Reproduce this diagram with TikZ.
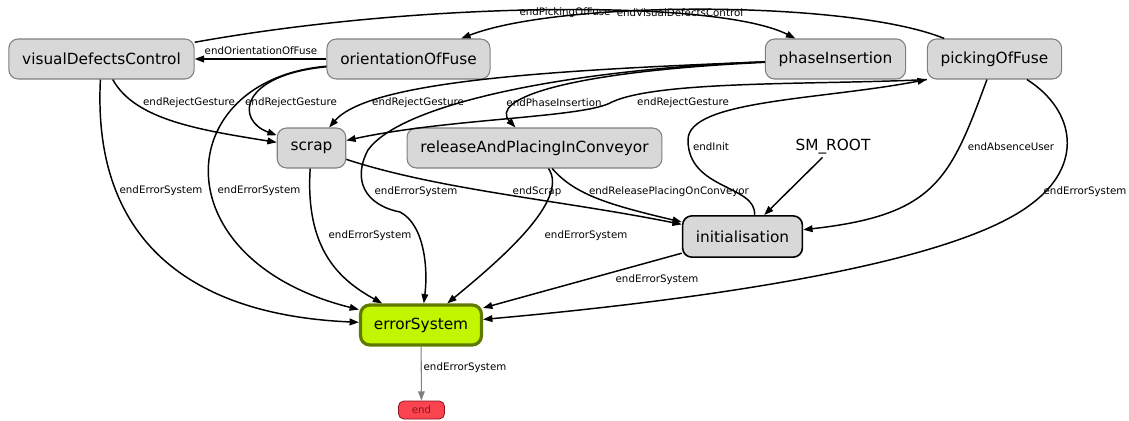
\documentclass[tikz,border=0pt]{standalone}
\usepackage{fontspec}
\setmainfont{DejaVu Sans}
\usetikzlibrary{arrows.meta}
\definecolor{smfill}{RGB}{216,216,216}
\definecolor{smborder}{RGB}{128,128,128}
\definecolor{smlime}{RGB}{194,245,0}
\definecolor{smolive}{RGB}{96,122,0}
\definecolor{smred}{RGB}{250,68,80}
\definecolor{smdarkred}{RGB}{140,20,30}

\begin{document}
\begin{tikzpicture}[
    x=0.75pt, y=-0.75pt,
    >={Triangle[length=7pt, width=5pt]},
    state/.style={rectangle, rounded corners=7pt, draw=smborder, line width=0.8pt, fill=smfill,
        minimum height=30pt, inner xsep=10pt, font=\fontsize{11.5}{13}\selectfont},
    endstate/.style={rectangle, rounded corners=4pt, draw=smdarkred, line width=0.6pt, fill=smred,
        text=smdarkred, minimum height=13.5pt, inner xsep=10pt, font=\fontsize{7.7}{9}\selectfont},
    rootlbl/.style={inner sep=2pt, font=\fontsize{11.5}{13}\selectfont},
    trans/.style={->, line width=1.1pt},
    lbl/.style={inner sep=0pt, font=\fontsize{7.7}{9}\selectfont}
]
\useasboundingbox (0,0) rectangle (1129,421);

% === States ===
\node[state] (vdc) at (101.5,59) {visualDefectsControl};
\node[state] (oof) at (408.5,59) {orientationOfFuse};
\node[state] (phi) at (835.5,59) {phaseInsertion};
\node[state] (pof) at (994.5,59) {pickingOfFuse};
\node[state] (scrap) at (311.5,148) {scrap};
\node[state] (rap) at (534.5,148) {releaseAndPlacingInConveyor};
\node[rootlbl] (root) at (833,147) {SM\_ROOT};
\node[state, draw=black, line width=1.2pt, minimum height=31pt] (init) at (742.5,236.5) {initialisation};
\node[state, fill=smlime, draw=smolive, line width=2.4pt] (err) at (421,325) {errorSystem};
\node[endstate] (finish) at (421.5,410) {end};

% === Top row ===
\draw[trans] (oof) -- (vdc);
\node[lbl] (lOofVdc) at (261,51) {endOrientationOfFuse};
\draw[trans] (vdc) .. controls (430,0) and (720,0) .. (phi);
\node[lbl] (lVdcPhi) at (680,13) {endVisualDefectsControl};
\draw[trans] (pof) .. controls (850,0) and (560,0) .. (oof);
\node[lbl] (lPofOof) at (565,13) {endPickingOfFuse};

% === Reject gestures to scrap ===
\draw[trans] (vdc) .. controls (135,120) and (200,130) .. (scrap);
\node[lbl] (lVdcScrap) at (189,103) {endRejectGesture};
\draw[trans] (oof) .. controls (240,75) and (235,120) .. (scrap);
\node[lbl] (lOofScrap) at (291,103) {endRejectGesture};
\draw[trans] (phi) .. controls (560,70) and (370,80) .. (scrap);
\node[lbl] (lPhiScrap) at (418,103) {endRejectGesture};
\draw[trans] (pof.south west) .. controls (820,85) and (660,80) .. (612,102)
    .. controls (585,118) and (450,118) .. (scrap);
\node[lbl] (lPofScrap) at (683,103) {endRejectGesture};

% === Phase insertion ===
\draw[trans] (phi) .. controls (560,72) and (490,100) .. (rap);
\node[lbl] (lPhiRap) at (554,103) {endPhaseInsertion};

% === Errors ===
\draw[trans] (phi) .. controls (560,70) and (400,105) .. (368,150)
    .. controls (352,180) and (365,205) .. (400,212)
    .. controls (425,225) and (428,270) .. (err);
\node[lbl] (lPhiErr) at (416,192) {endErrorSystem};
\draw[trans] (vdc) .. controls (92,240) and (190,315) .. (err);
\node[lbl] (lVdcErr) at (161,191) {endErrorSystem};
\draw[trans] (oof) .. controls (170,80) and (160,260) .. (err);
\node[lbl] (lOofErr) at (259,191) {endErrorSystem};
\draw[trans] (scrap) .. controls (305,250) and (340,280) .. (err);
\node[lbl] (lScrapErr) at (370,236) {endErrorSystem};
\draw[trans] (rap) .. controls (570,200) and (500,260) .. (err);
\node[lbl] (lRapErr) at (586,236) {endErrorSystem};
\draw[trans] (init) -- (err);
\node[lbl] (lInitErr) at (657,280) {endErrorSystem};
\draw[trans] (pof) .. controls (1075,110) and (1085,165) .. (1030,205)
    .. controls (950,265) and (700,300) .. (err);
\node[lbl] (lPofErr) at (1085,192) {endErrorSystem};

% === Back to initialisation ===
\draw[trans] (pof) .. controls (950,180) and (935,215) .. (init);
\node[lbl] (lPofInit) at (1011,147) {endAbsenceUser};
\draw[trans] (scrap) .. controls (440,190) and (560,200) .. (init);
\node[lbl] (lScrapInit) at (537,192) {endScrap};
\draw[trans] (rap) .. controls (575,195) and (610,205) .. (init);
\node[lbl] (lRapInit) at (669,192) {endReleasePlacingOnConveyor};
\draw[trans] (root) -- (init);
\draw[trans] ([xshift=9pt]init.north) .. controls (757,185) and (688,190) .. (688,140)
    .. controls (688,100) and (820,100) .. (pof.south west);
\node[lbl] (lInitPof) at (711,147) {endInit};

% === End ===
\draw[trans, gray, line width=0.8pt] (err) -- (finish);
\node[lbl] (lErrEnd) at (465,368) {endErrorSystem};

\end{tikzpicture}
\end{document}
